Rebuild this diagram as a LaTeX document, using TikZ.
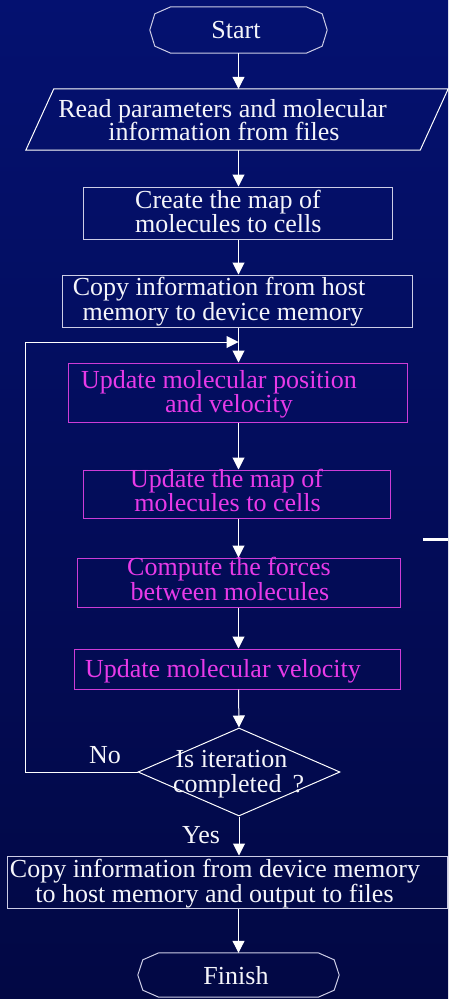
\documentclass[tikz,border=0pt]{standalone}
\usepackage{fontspec}
\setmainfont{Liberation Serif}
\usetikzlibrary{arrows.meta,calc,shapes.geometric}
\definecolor{bgtop}{RGB}{4,17,112}
\definecolor{bgbot}{RGB}{2,8,68}
\definecolor{mag}{RGB}{232,58,232}
\definecolor{magline}{RGB}{205,60,215}
\definecolor{frame}{RGB}{205,205,230}
\definecolor{ink}{RGB}{245,245,250}

% terminal symbol: a rectangle with doubly chamfered ends, drawn round a named node
\newcommand\drawterminal[1]{%
  \draw[frameline] (#1.west) -- ($(#1.north west)+(5,7)$) -- ($(#1.north west)+(21,0)$)
    -- ($(#1.north east)+(-21,0)$) -- ($(#1.north east)+(-5,7)$) -- (#1.east)
    -- ($(#1.south east)+(-5,-7)$) -- ($(#1.south east)+(-21,0)$)
    -- ($(#1.south west)+(21,0)$) -- ($(#1.south west)+(5,-7)$) -- cycle;}

\begin{document}
\begin{tikzpicture}[x=1pt,y=-1pt,
  frameline/.style={draw=frame,line width=1pt},
  shell/.style={rectangle,inner sep=0pt},
  box/.style={shell,draw=frame,line width=1pt},
  procbox/.style={shell,draw=magline,line width=1pt},
  txt/.style={anchor=base,inner sep=0pt,text=ink,font=\fontsize{26}{26}\selectfont},
  ltxt/.style={txt,anchor=base west},
  mtxt/.style={txt,text=mag},
  arr/.style={draw=white,line width=1pt,-{Triangle[length=12pt,width=12pt]}},
  wire/.style={draw=white,line width=1pt}]

% background
\useasboundingbox (0,0) rectangle (448,999);
\fill[top color=bgtop,bottom color=bgbot] (0,0) rectangle (448,999);

\coordinate (axis) at (238.5,0);

% start
\node[shell,minimum width=177pt,minimum height=46pt] (start) at (238.5,30) {};
\drawterminal{start}
\node[txt] (startlbl) at (236,38) {Start};

% input
\node[shell,minimum width=422pt,minimum height=61pt] (read) at (237,119.5) {};
\draw[wire] ($(read.north west)+(28,0)$) -- (read.north east)
  -- ($(read.south east)+(-28,0)$) -- (read.south west) -- cycle;
\node[txt] (reada) at (222.5,117) {Read parameters and molecular};
\node[txt] (readb) at (224,140) {information from files};

% cell map
\node[box,minimum width=309pt,minimum height=52pt] (cellmap) at (237.5,213) {};
\node[ltxt] (cellmapa) at (135,208) {Create the map of};
\node[ltxt] (cellmapb) at (135,232) {molecules to cells};

% host to device
\node[box,minimum width=350pt,minimum height=52pt] (htod) at (237,301) {};
\node[txt] (htoda) at (219,295) {Copy information from host};
\node[txt] (htodb) at (223,320) {memory to device memory};

% device loop
\node[procbox,minimum width=339pt,minimum height=59pt] (pos) at (237.5,392.5) {};
\node[mtxt] (posa) at (219,388) {Update molecular position};
\node[mtxt] (posb) at (229,412) {and velocity};

\node[procbox,minimum width=307pt,minimum height=48pt] (remap) at (236.5,494) {};
\node[mtxt] (remapa) at (226.5,487) {Update the map of};
\node[mtxt] (remapb) at (227.5,511) {molecules to cells};

\node[procbox,minimum width=323pt,minimum height=49pt] (force) at (238.5,582.5) {};
\node[mtxt] (forcea) at (229,575) {Compute the forces};
\node[mtxt] (forceb) at (230,600) {between molecules};

\node[procbox,minimum width=326pt,minimum height=40pt] (vel) at (237,669) {};
\node[mtxt] (vela) at (223,677) {Update molecular velocity};

% decision
\node[diamond,draw=white,line width=1pt,inner sep=0pt,
      minimum width=202pt,minimum height=88pt] (dec) at (239,772) {};
\node[txt] (deca) at (231.5,767) {Is iteration};
\node[ltxt] (decb) at (173,792) {completed\hspace{11pt}?};

% device to host
\node[box,minimum width=440pt,minimum height=52pt] (dtoh) at (227,882) {};
\node[txt] (dtoha) at (215,877) {Copy information from device memory};
\node[txt] (dtohb) at (214.5,902) {to host memory and output to files};

% finish
\node[shell,minimum width=201pt,minimum height=44pt] (finish) at (238.5,975) {};
\drawterminal{finish}
\node[txt] (finishlbl) at (236,984) {Finish};

% branch labels
\node[txt] (nolbl) at (105,763) {No};
\node[txt] (yeslbl) at (201,843) {Yes};

% flow
\draw[arr] (start.south -| axis) -- (read.north -| axis);
\draw[arr] (read.south -| axis) -- (cellmap.north -| axis);
\draw[arr] (cellmap.south -| axis) -- (htod.north -| axis);
\draw[arr] (htod.south -| axis) -- (pos.north -| axis);
\draw[arr] (pos.south -| axis) -- (remap.north -| axis);
\draw[arr] (remap.south -| axis) -- (force.north -| axis);
\draw[arr] (force.south -| axis) -- (vel.north -| axis);
\draw[arr] (vel.south -| axis) -- (dec.north);
\draw[arr] (dec.south) -- (dtoh.north -| dec.south);
\draw[arr] (dtoh.south -| axis) -- (finish.north -| axis);

% loop back
\coordinate (loopin) at (238.5,342);
\coordinate (rail) at (25,0);
\draw[arr] (dec.west) -- (dec.west -| rail) -- (rail |- loopin) -- (loopin);

% short stroke at the right edge
\coordinate (dasha) at (423,539);
\coordinate (dashb) at (448,539);
\draw[white,line width=3pt] (dasha) -- (dashb);
\end{tikzpicture}
\end{document}
